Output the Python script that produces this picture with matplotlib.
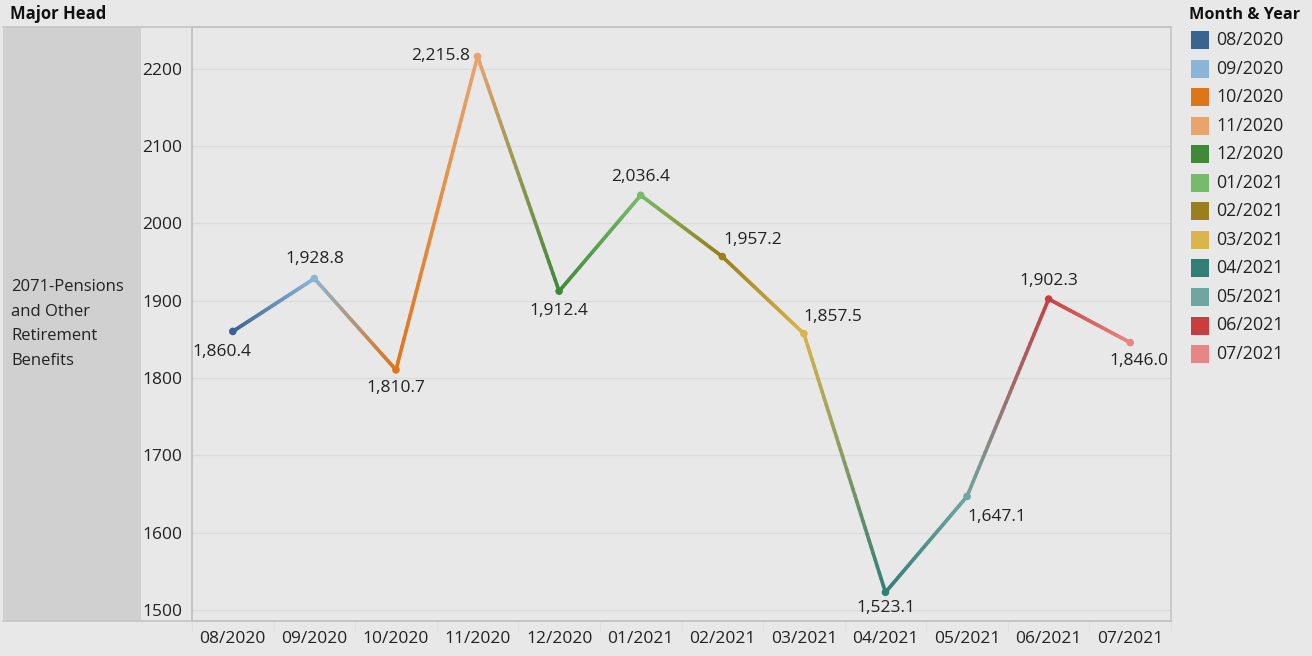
"""Monthly trend for one major head, Tableau-style line with colour gradient."""

import matplotlib
matplotlib.use("Agg")
import matplotlib.pyplot as plt
from matplotlib.collections import LineCollection
from matplotlib.colors import to_rgb
from matplotlib.lines import Line2D
from matplotlib.patches import Rectangle
import numpy as np

plt.rcParams["font.family"] = ["Open Sans", "DejaVu Sans"]

months = ["08/2020", "09/2020", "10/2020", "11/2020", "12/2020", "01/2021",
          "02/2021", "03/2021", "04/2021", "05/2021", "06/2021", "07/2021"]
values = [1860.4, 1928.8, 1810.7, 2215.8, 1912.4, 2036.4,
          1957.2, 1857.5, 1523.1, 1647.1, 1902.3, 1846.0]
colors = ["#3a6391", "#8ab5d6", "#de7519", "#e9a46b", "#3f8a39", "#76bb69",
          "#9a7f1a", "#d9b54c", "#327f78", "#6fa69f", "#c83e40", "#e88685"]
yticks = [1500, 1600, 1700, 1800, 1900, 2000, 2100, 2200]
row_label = "2071-Pensions\nand Other\nRetirement\nBenefits"

# label placement: (dx, dy) in points, horizontal alignment
label_pos = [((-8, -15), "center"), ((0, 14), "center"), ((0, -13), "center"),
             ((-5, 0.5), "right"), ((0, -14), "center"), ((0, 13), "center"),
             ((0.5, 12), "left"), ((0, 12), "left"), ((0, -11), "center"),
             ((0, -15), "left"), ((0, 13), "center"), ((6.5, -13), "center")]

BG = "#e8e8e8"
PANEL = "#d0d0d0"
BORDER = "#c4c4c4"
GRID = "#dadada"
TEXT = "#222222"

W, H = 1312, 656


def fx(px):
    return px / W


def fy(py):
    return 1 - py / H


fig = plt.figure(figsize=(W / 100, H / 100), dpi=100, facecolor=BG)
ax = fig.add_axes([fx(192), fy(621), fx(1171) - fx(192), fy(27) - fy(621)])
ax.set_facecolor(BG)

x = np.arange(len(values))
ax.set_xlim(-0.5, len(values) - 0.5)
ax.set_ylim(1486, 2254)

# gradient line: each segment blends from its start colour to its end colour
segs, segcols = [], []
for i in range(len(values) - 1):
    c0, c1 = np.array(to_rgb(colors[i])), np.array(to_rgb(colors[i + 1]))
    t = np.linspace(0, 1, 41)
    xs = x[i] + t * (x[i + 1] - x[i])
    ys = values[i] + t * (values[i + 1] - values[i])
    for k in range(40):
        segs.append([(xs[k], ys[k]), (xs[k + 1], ys[k + 1])])
        segcols.append(c0 + (c1 - c0) * (t[k] + t[k + 1]) / 2)
lc = LineCollection(segs, colors=segcols, linewidths=2.6, capstyle="round",
                    zorder=3)
ax.add_collection(lc)
ax.scatter(x, values, s=30, c=colors, zorder=4, linewidths=0)

for i, v in enumerate(values):
    (dx, dy), ha = label_pos[i]
    ax.annotate(f"{v:,.1f}", (x[i], v), textcoords="offset points",
                xytext=(dx, dy), ha=ha, va="center", fontsize=12.5,
                color=TEXT, zorder=5)

ax.set_yticks(yticks)
ax.yaxis.grid(True, color=GRID, linewidth=0.9)
ax.set_axisbelow(True)
ax.set_xticks(x)
ax.set_xticklabels(months)
ax.set_xticks(np.arange(-0.5, len(values)), minor=True)
ax.tick_params(axis="both", which="major", length=0, labelsize=12.5,
               colors=TEXT)
ax.tick_params(axis="y", pad=7)
ax.tick_params(axis="x", pad=7)
ax.tick_params(axis="x", which="minor", length=8, color="#e0e0e0",
               width=0.8)
for side in ["left", "right", "top", "bottom"]:
    ax.spines[side].set_color(BORDER)
    ax.spines[side].set_linewidth(1.2)
ax.spines["left"].set_color("#bdbdbd")

# row header panel
fig.patches.append(Rectangle((fx(3), fy(621)), fx(141) - fx(3),
                             fy(27) - fy(621), transform=fig.transFigure,
                             facecolor=PANEL, edgecolor="none", zorder=0))
fig.lines.append(Line2D([fx(3), fx(1171)], [fy(27), fy(27)],
                        transform=fig.transFigure, color=BORDER, lw=1.2))
fig.lines.append(Line2D([fx(3), fx(1171)], [fy(621), fy(621)],
                        transform=fig.transFigure, color=BORDER, lw=1.2))
fig.text(fx(10), fy(14), "Major Head", fontsize=12, fontweight="bold",
         color="#111111", ha="left", va="center")
fig.text(fx(11), fy(324), row_label, fontsize=12, color=TEXT, ha="left",
         va="center", linespacing=1.72)

# legend
fig.text(fx(1189), fy(15), "Month & Year", fontsize=11.7, fontweight="bold",
         color="#111111", ha="left", va="center")
for i, (m, c) in enumerate(zip(months, colors)):
    cy = 40 + i * 28.55
    fig.patches.append(Rectangle((fx(1191), fy(cy + 9)), fx(18), 18 / H,
                                 transform=fig.transFigure, facecolor=c,
                                 edgecolor="none"))
    fig.text(fx(1216), fy(cy), m, fontsize=12.8, color=TEXT, ha="left",
             va="center")

fig.savefig("out.png", dpi=100, facecolor=BG)
